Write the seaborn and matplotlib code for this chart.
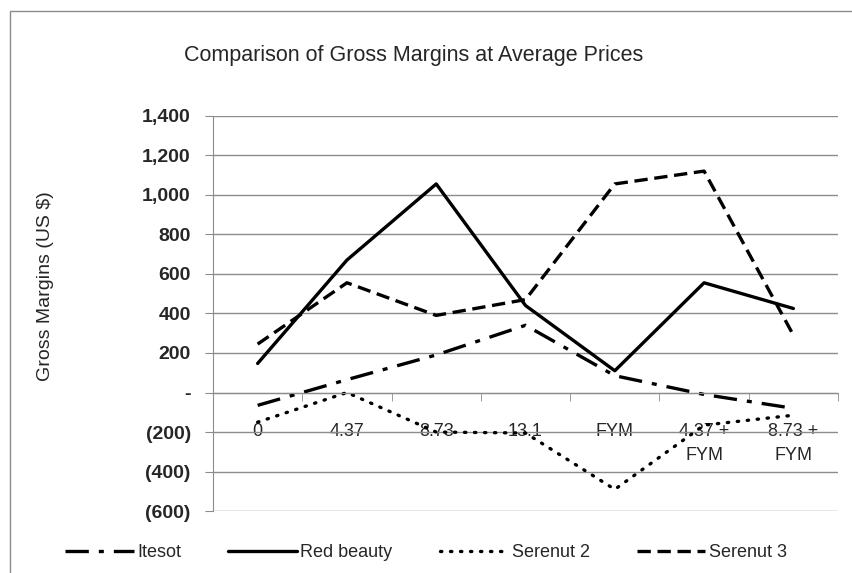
import pandas as pd
import seaborn as sns
import matplotlib.pyplot as plt
from matplotlib.ticker import FuncFormatter, FixedLocator
from matplotlib.patches import Rectangle

categories = ['0', '4.37', '8.73', '13.1', 'FYM', '4.37 +\nFYM', '8.73 +\nFYM']
itesot = [-65, 65, 190, 340, 85, -10, -80]
red_beauty = [147, 670, 1055, 440, 110, 555, 425]
serenut_2 = [-150, 0, -200, -205, -490, -165, -115]
serenut_3 = [245, 555, 390, 470, 1055, 1120, 290]

series = {'Itesot': itesot, 'Red beauty': red_beauty,
          'Serenut 2': serenut_2, 'Serenut 3': serenut_3}
rows = []
for name, vals in series.items():
    for i, v in enumerate(vals):
        rows.append({'pos': i, 'value': v, 'variety': name})
df = pd.DataFrame(rows)

sns.set_style('white')
plt.rcParams['font.family'] = ['Liberation Sans', 'DejaVu Sans']

fig = plt.figure(figsize=(8.52, 5.73), dpi=100)
ax = fig.add_axes([0.25, 0.108, 0.7336, 0.69])

dashes = {'Itesot': (7, 3, 1.5, 3), 'Red beauty': '', 'Serenut 2': (0.4, 2.6), 'Serenut 3': (4, 2)}
sns.lineplot(data=df, x='pos', y='value', hue='variety', style='variety',
             palette=['black'] * 4, dashes=dashes, linewidth=2.4, ax=ax, legend=True)

ax.set_xlim(-0.5, 6.5)
ax.set_ylim(-600, 1400)
ax.set_yticks(range(-600, 1401, 200))
ax.yaxis.set_major_formatter(FuncFormatter(
    lambda v, p: f'{v:,.0f}' if v > 0 else ('-' if v == 0 else f'({-v:,.0f})')))
ax.grid(axis='y', color='#8c8c8c', linewidth=1)
for s in ['top', 'right']:
    ax.spines[s].set_visible(False)
ax.spines['left'].set_color('#8c8c8c')
ax.spines['bottom'].set_color('#8c8c8c')
ax.spines['bottom'].set_position(('data', 0))
ax.tick_params(axis='y', left=True, length=6, color='#8c8c8c', pad=10, labelsize=14)
for t in ax.get_yticklabels():
    t.set_fontweight('bold')

ax.set_xticks(range(len(categories)))
ax.set_xticklabels(categories, fontsize=13, linespacing=1.5)
ax.tick_params(axis='x', which='major', length=0, pad=22)
ax.xaxis.set_minor_locator(FixedLocator([i + 0.5 for i in range(-1, 7)]))
ax.tick_params(axis='x', which='minor', bottom=True, length=6, color='#8c8c8c', direction='out')
ax.set_xlabel('')
ax.set_ylabel('')

handles, labels = ax.get_legend_handles_labels()
ax.legend_.remove()
for line, h, lab in zip(ax.lines, handles, labels):
    if lab == 'Serenut 2':
        line.set_dash_capstyle('round')
        h.set_dash_capstyle('round')

fig.text(0.053, 0.5, 'Gross Margins (US $)', rotation=90, ha='center', va='center',
         fontsize=14)
fig.text(0.486, 0.904, 'Comparison of Gross Margins at Average Prices', ha='center',
         va='center', fontsize=15.5)

fig.legend(handles, labels, loc='center', bbox_to_anchor=(0.5, 0.036), ncol=4,
           frameon=False, fontsize=13, handlelength=3.8, handletextpad=0.2,
           columnspacing=2.6)

fig.patches.append(Rectangle((0.012, -0.02), 1.0, 1.0, transform=fig.transFigure,
                             fill=False, edgecolor='#8c8c8c', linewidth=1))

fig.savefig('out.png', dpi=100)
